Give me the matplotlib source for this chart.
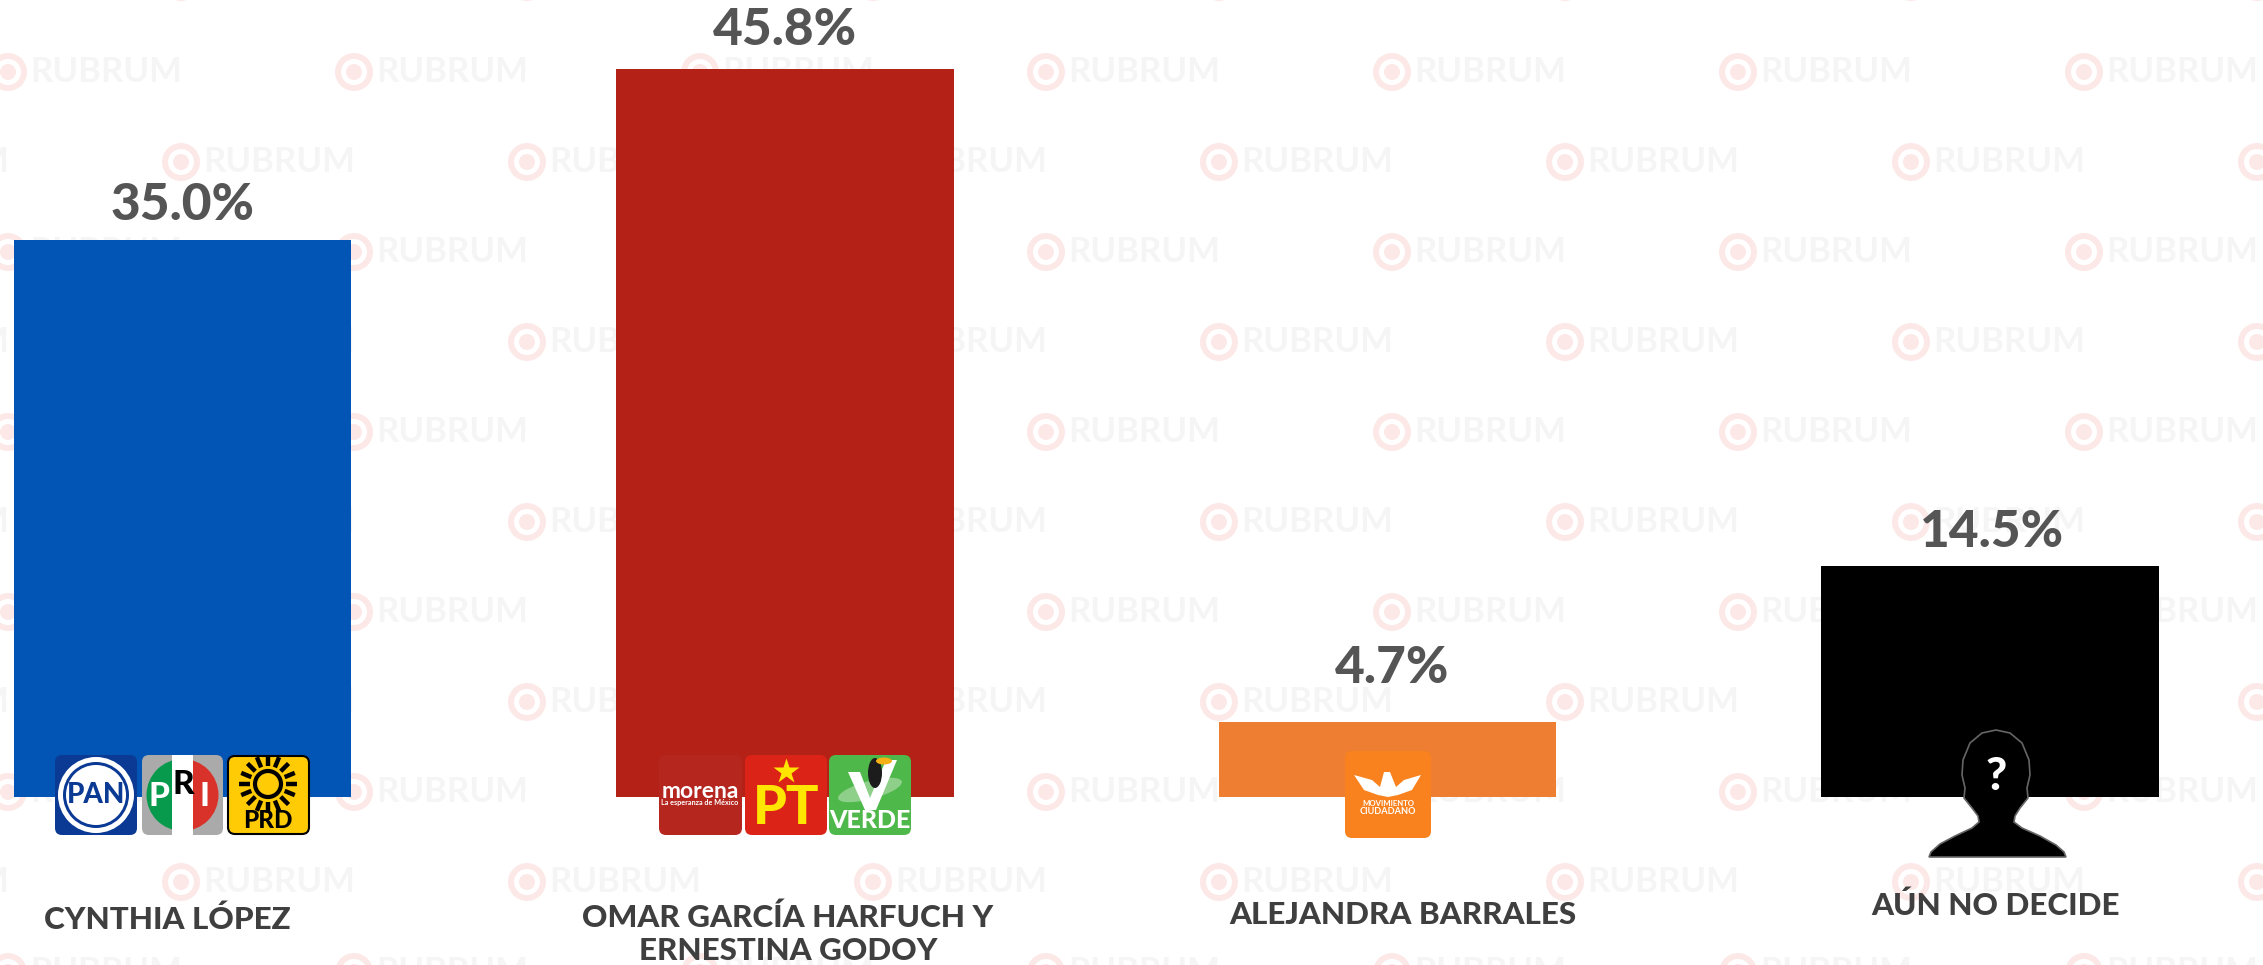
import numpy as np
import matplotlib
matplotlib.use('Agg')
import matplotlib.pyplot as plt
from matplotlib.patches import Circle, Ellipse, FancyBboxPatch, Polygon, Rectangle, Wedge

# Data
candidates = ['CYNTHIA LÓPEZ', 'OMAR GARCÍA HARFUCH Y\nERNESTINA GODOY', 'ALEJANDRA BARRALES', 'AÚN NO DECIDE']
values = [35.0, 45.8, 4.7, 14.5]
bar_colors = ['#0255b5', '#b42117', '#ee7e31', '#000000']
value_gap = [35, 38, 53, 34]
value_shift = [0, 0, 5, 2]
label_x = [167, 788, 1403, 1996]
label_y = [920, 934, 915, 906]

FONT = 'Lato'
W, H = 2263, 965
fig = plt.figure(figsize=(W / 100, H / 100), dpi=100, facecolor='white')


def pixel_axes(zorder):
    a = fig.add_axes([0, 0, 1, 1], zorder=zorder)
    a.set_xlim(0, W)
    a.set_ylim(H, 0)
    a.axis('off')
    return a


# Watermark behind the bars
bg = pixel_axes(0)
pink = '#fde8e8'
grey = '#f5f5f6'
for row, wy in enumerate(np.arange(-18, 1000, 90)):
    start = 181 if row % 2 == 0 else 8
    for wx in np.arange(start - 346, W + 100, 346):
        bg.add_patch(Circle((wx, wy), 19, fc=pink, ec='none'))
        bg.add_patch(Circle((wx, wy), 13, fc='white', ec='none'))
        bg.add_patch(Circle((wx, wy), 8, fc=pink, ec='none'))
        bg.text(wx + 22, wy, 'RUBRUM', color=grey, fontsize=25, family=FONT, weight='bold',
                ha='left', va='center')

# Bars
ax = fig.add_axes([0, 0, 1, 1], zorder=1)
ax.patch.set_alpha(0)
px_per_unit = 15.89
ax.set_xlim((0 - 182.5) / 602.5, (W - 182.5) / 602.5)
ax.set_ylim(-(H - 796.5) / px_per_unit, 796.5 / px_per_unit)
ax.axis('off')
positions = np.arange(len(values))
ax.bar(positions, values, width=0.56, color=bar_colors)
for p, v, gap, shift in zip(positions, values, value_gap, value_shift):
    ax.annotate(f'{v:.1f}%', (p, v), xytext=(shift * 0.72, gap * 0.72), textcoords='offset points',
                ha='center', va='center', color='#555555', fontsize=37, family=FONT, weight='black')

# Party logos and names on top
top = pixel_axes(2)
for name, lx, ly in zip(candidates, label_x, label_y):
    top.text(lx, ly, name, ha='center', va='center', color='#3f3f3f', fontsize=22.6, family=FONT,
             weight='black', linespacing=1.2)


def box(x0, x1, y0, y1, color, edge='none'):
    top.add_patch(FancyBboxPatch((x0 + 5, y0 + 5), x1 - x0 - 10, y1 - y0 - 10,
                                 boxstyle='round,pad=5,rounding_size=7', fc=color, ec=edge, lw=1.5))


def logo_text(x, y, s, size, color='white', weight='black'):
    top.text(x, y, s, ha='center', va='center', fontsize=size, color=color, family=FONT, weight=weight)


# PAN
box(55, 137, 755, 835, '#0b3a94')
top.add_patch(Ellipse((96, 795), 76, 76, fc='white', ec='none'))
top.add_patch(Ellipse((96, 795), 66, 66, fc='#0b3a94', ec='none'))
top.add_patch(Ellipse((96, 795), 60, 60, fc='white', ec='none'))
logo_text(96, 795, 'PAN', 20, '#0b3a94')

# PRI
box(142, 223, 755, 835, '#aaaaaa')
top.add_patch(Wedge((182.5, 795), 36, 90, 270, fc='#079a4c', ec='none'))
top.add_patch(Wedge((182.5, 795), 36, 270, 90, fc='#d8322a', ec='none'))
top.add_patch(Rectangle((172, 755), 21, 80, fc='white', ec='none'))
logo_text(159, 796, 'P', 24, 'white')
logo_text(183, 785, 'R', 24, 'black')
logo_text(204, 797, 'I', 24, 'white')

# PRD
box(228, 309, 756, 834, '#ffcb05', 'black')
for ang in np.arange(0, 360, 22.5):
    c, s = np.cos(np.radians(ang)), np.sin(np.radians(ang))
    top.plot([268 + 18 * c, 268 + 29 * c], [784 + 18 * s, 784 + 29 * s], color='black', lw=3.2,
             solid_capstyle='butt')
top.add_patch(Circle((268, 784), 13, fc='none', ec='black', lw=3))
logo_text(268, 821, 'PRD', 17.5, 'black')

# Morena
box(659, 742, 755, 835, '#b5261f')
logo_text(700, 791, 'morena', 16.5, 'white', 'bold')
logo_text(700, 802, 'La esperanza de México', 5.2, 'white', 'bold')

# PT
box(745, 827, 755, 835, '#dc2318')
top.plot([786], [771], marker='*', ms=19, color='#ffe600', mec='none')
logo_text(786, 808, 'PT', 39, '#ffe600')

# Verde
box(829, 911, 755, 835, '#4fb84a')
top.add_patch(Ellipse((870, 790), 66, 18, angle=-15, fc='#8ed08a', ec='none'))
top.add_patch(Polygon([(848, 772), (860, 772), (870, 798), (886, 760), (897, 760), (876, 810), (865, 810)],
                      fc='white', ec='none'))
top.add_patch(Ellipse((875, 773), 14, 30, fc='#1c1c1c', ec='none'))
top.add_patch(Ellipse((884, 761), 16, 7, fc='#f5b016', ec='none'))
logo_text(870, 821, 'VERDE', 18)

# Movimiento Ciudadano
box(1345, 1431, 751, 838, '#f9821e')
top.add_patch(Polygon([(1354, 775), (1372, 780), (1380, 787), (1384, 772), (1390, 772), (1396, 787),
                       (1404, 780), (1421, 775), (1412, 790), (1398, 795), (1388, 797), (1378, 795),
                       (1364, 790)], fc='white', ec='none'))
logo_text(1388, 803, 'MOVIMIENTO', 5.6, 'white', 'bold')
logo_text(1388, 811.5, 'CIUDADANO', 6.6, 'white', 'bold')

# Undecided silhouette
silhouette = [(1996, 730), (2010, 733), (2022, 743), (2029, 760), (2030, 775), (2027, 788), (2028, 798),
              (2020, 808), (2015, 816), (2014, 822), (2022, 828), (2040, 836), (2056, 845), (2064, 852),
              (2066, 857), (1929, 857), (1931, 852), (1940, 844), (1955, 836), (1972, 828), (1979, 822),
              (1978, 816), (1972, 808), (1964, 798), (1965, 788), (1962, 775), (1963, 760), (1970, 743),
              (1982, 733)]
top.add_patch(Polygon(silhouette, closed=True, fc='black', ec='#666666', lw=1.2))
logo_text(1996, 777, '?', 33, 'white', 'black')

fig.savefig('out.png', dpi=100, facecolor='white')
